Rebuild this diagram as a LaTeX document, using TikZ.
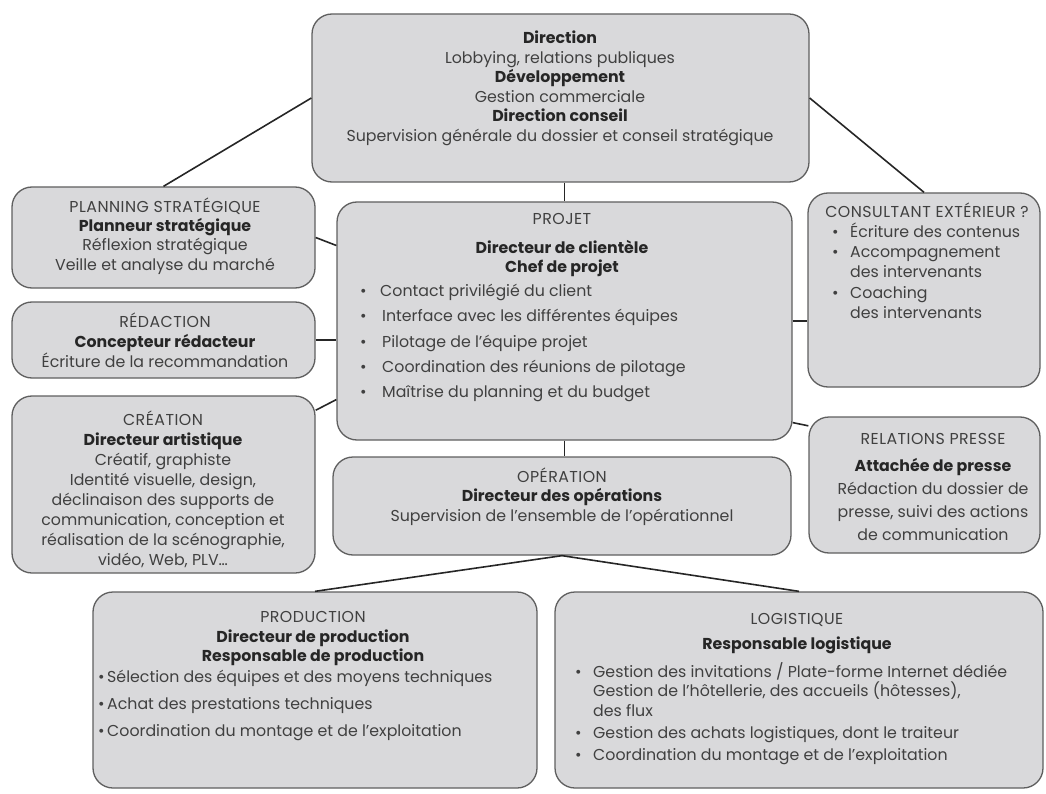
\documentclass[tikz,border=0pt]{standalone}
\usepackage{fontspec}
\setmainfont{Poppins}
\usetikzlibrary{positioning}
\definecolor{fond}{RGB}{217,217,219}
\definecolor{bord}{RGB}{95,95,95}
\definecolor{gris}{RGB}{64,64,64}
\definecolor{fonce}{RGB}{38,38,38}
\tikzset{
  boite/.style={draw=bord, fill=fond, line width=1.3pt, rounded corners=20pt, inner sep=0pt},
  lien/.style={draw=fonce, line width=1.6pt},
  txt/.style={text=gris, inner sep=0pt, align=center, anchor=north, font=\fontsize{15.8}{19.5}\selectfont},
  liste/.style={txt, align=left, anchor=north west},
}
\newcommand\gras[1]{\textbf{\color{fonce}#1}}
\newcommand\titre[1]{{\addfontfeature{LetterSpace=3}#1}}
\newcommand\puce[1][18pt]{\makebox[#1][l]{\textbullet}}
\begin{document}
\begin{tikzpicture}[x=1pt,y=-1pt]
    \useasboundingbox (0,0) rectangle (1046,794);
    % boites
    \node[boite, minimum width=497pt, minimum height=168pt](dir)at(560.5,98){};
    \node[boite, minimum width=303pt, minimum height=101pt](plan)at(163.5,237.5){};
    \node[boite, minimum width=303pt, minimum height=76pt](red)at(163.5,340){};
    \node[boite, minimum width=303pt, minimum height=177pt](crea)at(163.5,484.5){};
    \node[boite, minimum width=455pt, minimum height=238pt](proj)at(564.5,321){};
    \node[boite, minimum width=232pt, minimum height=194pt](cons)at(924,290){};
    \node[boite, minimum width=231pt, minimum height=136pt](presse)at(924.5,485){};
    \node[boite, minimum width=458pt, minimum height=98pt](oper)at(562,506){};
    \node[boite, minimum width=444pt, minimum height=196pt](prod)at(315,690){};
    \node[boite, minimum width=488pt, minimum height=196pt](logi)at(799,690){};
    % liens
    \draw[lien](dir.west)--(plan.north);
    \draw[lien](dir.east)--(cons.north);
    \draw[lien](dir.south -| proj.north)--(proj.north);
    \draw[lien](plan.east)--([yshift=-8pt]plan.east -| proj.west);
    \draw[lien](red.east)--(red.east -| proj.west);
    \draw[lien](crea.26)--(proj.199);
    \draw[lien](proj.east)--(proj.east -| cons.west);
    \draw[lien](proj.-24)--(presse.153);
    \draw[lien](proj.south)--(proj.south |- oper.north);
    \draw[lien](oper.south)--(prod.north);
    \draw[lien](oper.south)--(logi.north);
    % textes
    \node[txt](dirtxt)at(560,31){\gras{Direction}\\Lobbying, relations publiques\\\gras{Développement}\\Gestion commerciale\\\gras{Direction conseil}\\Supervision générale du dossier et conseil stratégique};
    \node[txt, font=\fontsize{15.8}{19.3}\selectfont](plantxt)at(165,197.5){\titre{PLANNING STRATÉGIQUE}\\\gras{Planneur stratégique}\\Réflexion stratégique\\Veille et analyse du marché};
    \node[txt, font=\fontsize{15.8}{20}\selectfont](redtxt)at(165,312.5){\titre{RÉDACTION}\\\gras{Concepteur rédacteur}\\Écriture de la recommandation};
    \node[txt, font=\fontsize{15.8}{20}\selectfont](creatxt)at(163,410.5){\titre{CRÉATION}\\\gras{Directeur artistique}\\Créatif, graphiste\\Identité visuelle, design,\\déclinaison des supports de\\communication, conception et\\réalisation de la scénographie,\\vidéo, Web, PLV…};
    \node[txt](projtxt)at(562,213.5){\titre{PROJET}\\[9pt]\gras{Directeur de clientèle}\\\gras{Chef de projet}};
    \node[liste](projliste)at(360,284){\puce[20pt]Contact privilégié du client\\[5.8pt]\puce[22pt]Interface avec les différentes équipes\\[5.8pt]\puce[22pt]Pilotage de l’équipe projet\\[5.8pt]\puce[22pt]Coordination des réunions de pilotage\\[5.8pt]\puce[22pt]Maîtrise du planning et du budget};
    \node[txt](constxt)at(927,202.5){\titre{CONSULTANT EXTÉRIEUR ?}};
    \node[liste, font=\fontsize{15.8}{20.3}\selectfont](consliste)at(832,222.5){\puce Écriture des contenus\\\puce Accompagnement\\\hspace*{18pt}des intervenants\\\puce Coaching\\\hspace*{18pt}des intervenants};
    \node[txt, font=\fontsize{15.8}{23}\selectfont](pressetxt)at(933,433.5){\titre{RELATIONS PRESSE}\\[4pt]\gras{Attachée de presse}\\Rédaction du dossier de\\presse, suivi des actions\\de communication};
    \node[txt](opertxt)at(562,467.5){\titre{OPÉRATION}\\\gras{Directeur des opérations}\\Supervision de l’ensemble de l’opérationnel};
    \node[txt](prodtxt)at(313,611.5){\titre{PRODUCTION}\\\gras{Directeur de production}\\\gras{Responsable de production}};
    \node[liste](prodliste)at(98,670){\puce[9pt]Sélection des équipes et des moyens techniques\\[7.5pt]\puce[9pt]Achat des prestations techniques\\[7.5pt]\puce[9pt]Coordination du montage et de l’exploitation};
    \node[txt](logitxt)at(797,613.5){\titre{LOGISTIQUE}\\[5.5pt]\gras{Responsable logistique}};
    \node[liste](logiliste)at(575,662){\puce Gestion des invitations / Plate-forme Internet dédiée\\\hspace*{18pt}Gestion de l’hôtellerie, des accueils (hôtesses),\\\hspace*{18pt}des flux\\[3pt]\puce Gestion des achats logistiques, dont le traiteur\\[2pt]\puce Coordination du montage et de l’exploitation};
\end{tikzpicture}
\end{document}
